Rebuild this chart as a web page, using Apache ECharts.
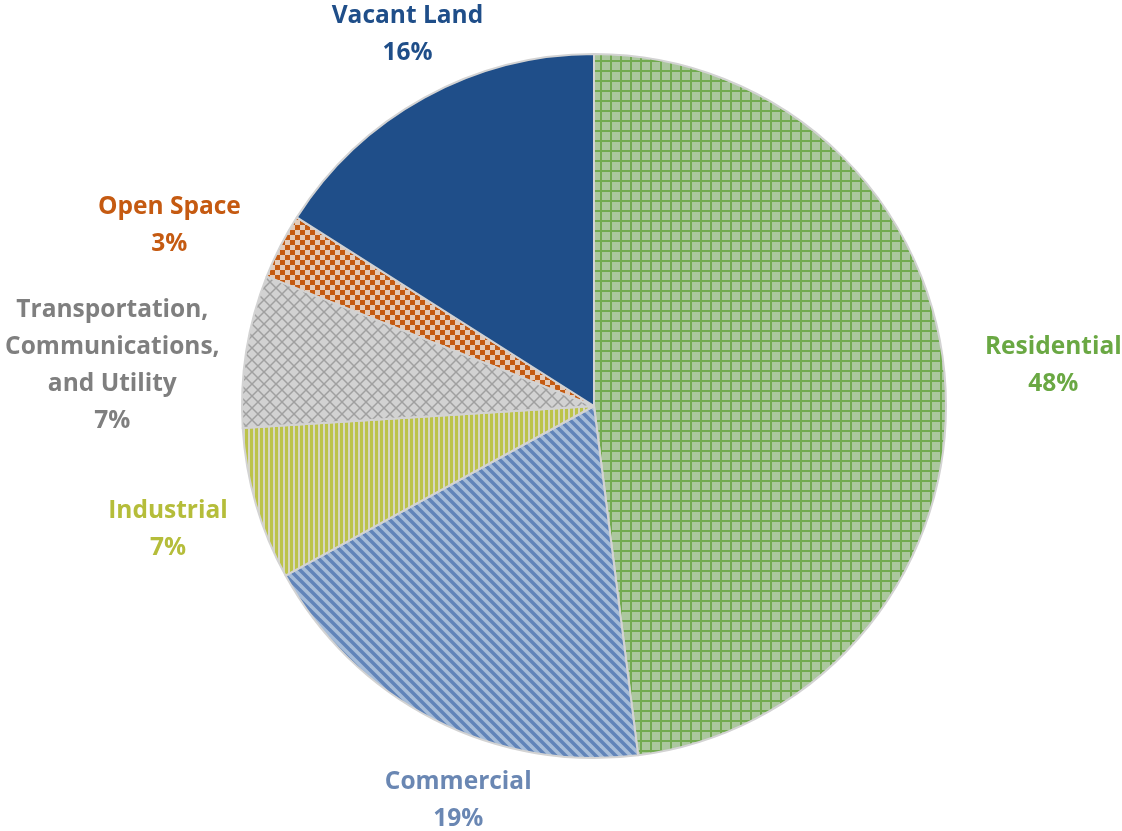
<!DOCTYPE html>
<html>
<head>
<meta charset="utf-8">
<script src="https://cdn.jsdelivr.net/npm/echarts@6/dist/echarts.min.js"></script>
<style>
html,body{margin:0;padding:0;background:#fff;}
#chart{width:1122px;height:831px;}
</style>
</head>
<body>
<div id="chart"></div>
<script>
// ---- data ----
const categories = ['Residential', 'Commercial', 'Industrial', 'Transportation,\nCommunications,\nand Utility', 'Open Space', 'Vacant Land'];
const shares = [48, 19, 7, 7, 3, 16];

// ---- styles ----
const labelColors = ['#6aa843', '#6a87b3', '#b5bd3a', '#7f7f7f', '#c55a11', '#1f4e89'];
// label offset from slice edge at mid-angle [dx, dy]
const labelOffsets = [[108, -18], [24, 81], [-88, 25], [-134, 15], [-111, -21], [-17, -63]];
const CX = 594, CY = 406, R = 352;

function tile(w, h, draw) {
  const c = document.createElement('canvas');
  c.width = w; c.height = h;
  const g = c.getContext('2d');
  draw(g, w, h);
  return { image: c, repeat: 'repeat' };
}
const fills = [
  tile(10, 10, (g) => { g.fillStyle = '#abc79e'; g.fillRect(0,0,10,10); g.fillStyle = '#72aa50'; g.fillRect(0,0,10,2); g.fillRect(0,0,2,10); }),
  tile(10, 10, (g) => { g.fillStyle = '#a6bcd8'; g.fillRect(0,0,10,10); g.strokeStyle = '#6184b9'; g.lineWidth = 3.5;
    for (let k = -10; k <= 10; k += 10) { g.beginPath(); g.moveTo(k - 2, -2); g.lineTo(k + 12, 12); g.stroke(); } }),
  tile(5, 5, (g) => { g.fillStyle = '#d6d6c4'; g.fillRect(0,0,5,5); g.fillStyle = '#bcc34a'; g.fillRect(0,0,3,5); }),
  tile(12, 12, (g) => { g.fillStyle = '#d2d2d2'; g.fillRect(0,0,12,12); g.strokeStyle = '#a0a0a0'; g.lineWidth = 1.5;
    g.beginPath(); g.moveTo(0,0); g.lineTo(12,12); g.moveTo(12,0); g.lineTo(0,12); g.stroke(); }),
  tile(10, 10, (g) => { g.fillStyle = '#e3cab8'; g.fillRect(0,0,10,10); g.fillStyle = '#c55a11'; g.fillRect(0,0,5,5); g.fillRect(5,5,5,5); }),
  '#1f4e89'
];

// mid angles computed from data
const total = shares.reduce((a, b) => a + b, 0);
const midAngles = [];
let acc = 0;
shares.forEach(v => { midAngles.push((acc + v / 2) / total * 2 * Math.PI); acc += v; });

const chart = echarts.init(document.getElementById('chart'));
chart.setOption({
  animation: false,
  backgroundColor: '#ffffff',
  series: [{
    type: 'pie',
    center: [CX, CY],
    radius: R,
    startAngle: 90,
    clockwise: true,
    avoidLabelOverlap: false,
    label: {
      show: true,
      position: 'outside',
      formatter: p => p.name + '\n' + p.value + '%',
      fontFamily: 'Open Sans',
      fontWeight: 'bold',
      fontSize: 24.5,
      lineHeight: 37
    },
    labelLine: { show: false },
    labelLayout: function (params) {
      const i = params.dataIndex;
      const a = midAngles[i];
      return {
        x: CX + R * Math.sin(a) + labelOffsets[i][0],
        y: CY - R * Math.cos(a) + labelOffsets[i][1],
        align: 'center',
        verticalAlign: 'middle'
      };
    },
    itemStyle: { borderColor: '#d3d3d3', borderWidth: 2 },
    emphasis: { disabled: true },
    data: categories.map((name, i) => ({
      name: name,
      value: shares[i],
      itemStyle: { color: fills[i] },
      label: { color: labelColors[i] }
    }))
  }]
});
</script>
</body>
</html>
